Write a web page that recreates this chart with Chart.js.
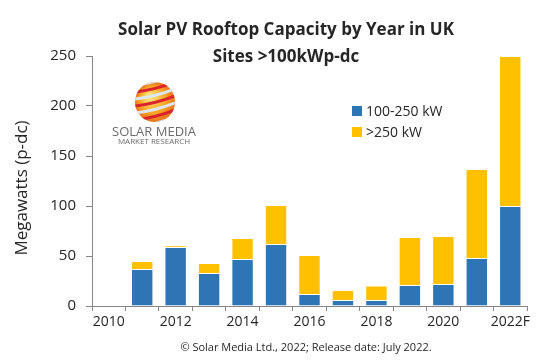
<!DOCTYPE html>
<html>
<head>
<meta charset="utf-8">
<script src="https://cdn.jsdelivr.net/npm/chart.js@4"></script>
<style>
  html, body { margin: 0; padding: 0; background: #fff; }
</style>
</head>
<body>
<canvas id="chart" width="546" height="363"></canvas>
<script>
// data
const years = ['2010', '2011', '2012', '2013', '2014', '2015', '2016', '2017', '2018', '2019', '2020', '2021', '2022F'];
const small = [0, 37, 59, 33, 47, 62, 12, 6, 6, 21, 22, 48, 100];    // 100-250 kW
const large = [0, 8, 1.5, 10, 21, 39, 39, 10, 14.5, 48, 48, 89, 150]; // >250 kW
const yTicks = [0, 50, 100, 150, 200, 250];

const blue = '#2e75b6';
const gold = '#ffc000';
const axisGrey = '#868686';
const font = "'Open Sans', sans-serif";

// title, axis title, legend, logo and footer sit on top of the plot like the original
const overlay = {
    id: 'overlay',
    afterDraw(chart) {
        const ctx = chart.ctx;
        ctx.save();
        ctx.fillStyle = '#262626';
        ctx.textAlign = 'center';
        ctx.textBaseline = 'middle';
        ctx.font = 'bold 17px ' + font;
        ctx.fillText('Solar PV Rooftop Capacity by Year in UK', 286, 30);
        ctx.fillText('Sites >100kWp-dc', 286, 57);

        // y axis title
        ctx.save();
        ctx.translate(22, 188);
        ctx.rotate(-Math.PI / 2);
        ctx.font = '17px ' + font;
        ctx.fillText('Megawatts (p-dc)', 0, 0);
        ctx.restore();

        // legend
        ctx.textAlign = 'left';
        ctx.font = '14px ' + font;
        chart.data.datasets.forEach((ds, i) => {
            const y = 111 + i * 21;
            ctx.fillStyle = ds.backgroundColor;
            ctx.fillRect(352, y - 5, 10, 10);
            ctx.fillStyle = '#262626';
            ctx.fillText(ds.label, 366, y + 1);
        });

        // logo
        const cx = 155, cy = 102, r = 20;
        ctx.save();
        ctx.beginPath();
        ctx.arc(cx, cy, r, 0, Math.PI * 2);
        ctx.clip();
        const g = ctx.createRadialGradient(cx - 6, cy - 6, 2, cx, cy, r);
        g.addColorStop(0, '#ffe27a');
        g.addColorStop(0.6, '#f9a825');
        g.addColorStop(1, '#e8731a');
        ctx.fillStyle = g;
        ctx.fillRect(cx - r, cy - r, r * 2, r * 2);
        ctx.lineWidth = 3;
        for (let k = -4; k <= 4; k++) {
            ctx.strokeStyle = k % 2 ? '#dbe7f3' : '#d9232d';
            ctx.beginPath();
            ctx.moveTo(cx - r, cy + k * 7 + 4);
            ctx.quadraticCurveTo(cx, cy + k * 7 + 2, cx + r, cy + k * 7 - 6);
            ctx.stroke();
        }
        ctx.restore();
        ctx.fillStyle = '#6b6b6b';
        ctx.textAlign = 'center';
        ctx.font = '13px ' + font;
        ctx.fillText('SOLAR MEDIA', 154, 132);
        ctx.font = '8px ' + font;
        ctx.fillText('MARKET RESEARCH', 154, 142);

        // footer
        ctx.fillStyle = '#262626';
        ctx.font = '11px ' + font;
        ctx.fillText('\u00a9 Solar Media Ltd., 2022; Release date: July 2022.', 306, 348);
        ctx.restore();
    }
};

new Chart(document.getElementById('chart'), {
    type: 'bar',
    data: {
        labels: years,
        datasets: [
            { label: '100-250 kW', data: small, backgroundColor: blue, borderColor: 'rgba(255,255,255,0.7)', borderWidth: 1 },
            { label: '>250 kW', data: large, backgroundColor: gold, borderColor: 'rgba(255,255,255,0.7)', borderWidth: 1 }
        ]
    },
    options: {
        responsive: false,
        animation: false,
        layout: { padding: { top: 56, right: 19, left: 0, bottom: 0 } },
        datasets: { bar: { barPercentage: 0.67, categoryPercentage: 1 } },
        plugins: {
            legend: { display: false },
            tooltip: { enabled: false }
        },
        scales: {
            x: {
                stacked: true,
                afterFit: s => { s.height = 57; },
                grid: { display: true, drawOnChartArea: false, offset: true, tickLength: 5, color: axisGrey },
                border: { color: axisGrey, width: 1 },
                ticks: {
                    autoSkip: false,
                    maxRotation: 0,
                    padding: 3,
                    color: '#262626',
                    font: { size: 14, family: font },
                    callback: function (v, i) { return i % 2 === 0 ? this.getLabelForValue(v) : ''; }
                }
            },
            y: {
                stacked: true,
                min: 0,
                max: 250,
                afterFit: s => { s.width = 92; },
                afterBuildTicks: s => { s.ticks = yTicks.map(v => ({ value: v })); },
                grid: { display: true, drawOnChartArea: false, tickLength: 6, color: axisGrey },
                border: { color: axisGrey, width: 1 },
                ticks: {
                    padding: 10,
                    color: '#262626',
                    font: { size: 15, family: font }
                }
            }
        }
    },
    plugins: [overlay]
});
</script>
</body>
</html>
